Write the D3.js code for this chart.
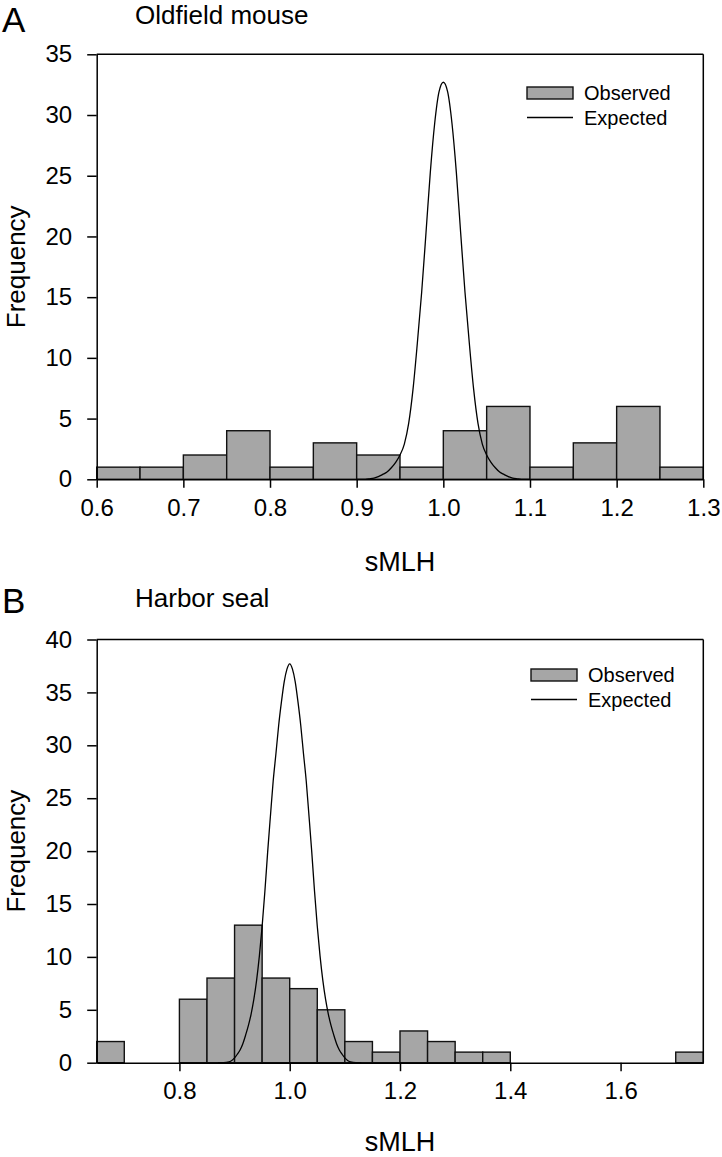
<!DOCTYPE html>
<html>
<head>
<meta charset="utf-8">
<script src="https://cdn.jsdelivr.net/npm/d3@7/dist/d3.min.js"></script>
<style>
  html, body { margin: 0; padding: 0; background: #fff; }
  svg { display: block; }
  text { font-family: "Liberation Sans", Arial, Helvetica, sans-serif; fill: #000; }
</style>
</head>
<body>
<svg id="chart" width="722" height="1157"></svg>
<script>
// ---------------- Data ----------------
// Panel A: Oldfield mouse
const mouseBinEdges = [0.60, 0.65, 0.70, 0.75, 0.80, 0.85, 0.90, 0.95, 1.00, 1.05, 1.10, 1.15, 1.20, 1.25, 1.30];
const mouseObserved = [1, 1, 2, 4, 1, 3, 2, 1, 4, 6, 1, 3, 6, 1];
const mouseExpectedX = [0.90, 0.91, 0.915, 0.92, 0.925, 0.93, 0.935, 0.94, 0.945, 0.95, 0.955, 0.96, 0.965, 0.97, 0.975, 0.98, 0.985, 0.99, 0.995, 1.00,
                        1.005, 1.01, 1.015, 1.02, 1.025, 1.03, 1.035, 1.04, 1.045, 1.05, 1.055, 1.06, 1.065, 1.07, 1.075, 1.08, 1.085, 1.09, 1.10];
const mouseExpectedY = [0, 0, 0.04, 0.1, 0.22, 0.4, 0.6, 0.95, 1.4, 2.0, 2.9, 4.6, 7.4, 11.2, 15.4, 20.3, 25.3, 29.3, 31.9, 32.7,
                        31.9, 29.3, 25.3, 20.3, 15.4, 11.2, 7.4, 4.6, 2.9, 2.0, 1.4, 0.95, 0.6, 0.4, 0.22, 0.1, 0.04, 0, 0];
const mouseXTicks = [0.6, 0.7, 0.8, 0.9, 1.0, 1.1, 1.2, 1.3];
const mouseYTicks = [0, 5, 10, 15, 20, 25, 30, 35];

// Panel B: Harbor seal
const sealBinEdges = [0.65, 0.70, 0.75, 0.80, 0.85, 0.90, 0.95, 1.00, 1.05, 1.10, 1.15, 1.20, 1.25, 1.30, 1.35, 1.40, 1.45, 1.50, 1.55, 1.60, 1.65, 1.70, 1.75];
const sealObserved = [2, 0, 0, 6, 8, 13, 8, 7, 5, 2, 1, 3, 2, 1, 1, 0, 0, 0, 0, 0, 0, 1];
const sealExpectedX = [0.87, 0.88, 0.89, 0.895, 0.90, 0.905, 0.91, 0.915, 0.92, 0.925, 0.93, 0.935, 0.94, 0.945, 0.95, 0.955, 0.96, 0.965, 0.97, 0.975, 0.98, 0.985, 0.99, 0.995, 1.00,
                       1.005, 1.01, 1.015, 1.02, 1.025, 1.03, 1.035, 1.04, 1.045, 1.05, 1.055, 1.06, 1.065, 1.07, 1.075, 1.08, 1.085, 1.09, 1.095, 1.10, 1.105, 1.11, 1.12, 1.13];
const sealExpectedY = [0, 0, 0.08, 0.2, 0.45, 0.8, 1.2, 1.8, 2.6, 3.5, 4.6, 6.0, 7.8, 10.1, 12.9, 16.2, 19.9, 23.3, 26.6, 29.2, 31.9, 34.1, 36.0, 37.2, 37.7,
                       37.2, 36.0, 34.1, 31.9, 29.2, 26.6, 23.3, 19.9, 16.2, 12.9, 10.1, 7.8, 6.0, 4.6, 3.5, 2.6, 1.8, 1.2, 0.8, 0.45, 0.2, 0.08, 0, 0];
const sealXTicks = [0.8, 1.0, 1.2, 1.4, 1.6];
const sealYTicks = [0, 5, 10, 15, 20, 25, 30, 35, 40];

const legendLabels = ["Observed", "Expected"];

// ---------------- Drawing ----------------
const svg = d3.select("#chart");
const BAR_FILL = "#a6a6a6";

function drawPanel(cfg) {
  const g = svg.append("g");
  const x = d3.scaleLinear().domain(cfg.xDomain).range([cfg.left, cfg.right]);
  const y = d3.scaleLinear().domain(cfg.yDomain).range([cfg.bottom, cfg.top]);

  // bars
  const bins = cfg.counts.map((c, i) => ({ x0: cfg.edges[i], x1: cfg.edges[i + 1], c }))
                         .filter(d => d.c > 0);
  g.selectAll("rect.bar").data(bins).enter().append("rect")
    .attr("class", "bar")
    .attr("x", d => x(d.x0))
    .attr("width", d => x(d.x1) - x(d.x0))
    .attr("y", d => y(d.c))
    .attr("height", d => y(0) - y(d.c))
    .attr("fill", BAR_FILL)
    .attr("stroke", "#111")
    .attr("stroke-width", 1.4);

  // expected curve
  const pts = cfg.curveX.map((v, i) => [v, cfg.curveY[i]]);
  g.append("path")
    .datum(pts)
    .attr("fill", "none")
    .attr("stroke", "#000")
    .attr("stroke-width", 1.3)
    .attr("d", d3.line().x(d => x(d[0])).y(d => y(d[1])).curve(d3.curveMonotoneX));

  // frame (top and right)
  g.append("line").attr("x1", cfg.left).attr("x2", cfg.right).attr("y1", cfg.top).attr("y2", cfg.top)
    .attr("stroke", "#000").attr("stroke-width", 1.5);
  g.append("line").attr("x1", cfg.right).attr("x2", cfg.right).attr("y1", cfg.top).attr("y2", cfg.bottom)
    .attr("stroke", "#000").attr("stroke-width", 1.5);

  // axes
  const yAxis = d3.axisLeft(y).tickValues(cfg.yTicks).tickFormat(d3.format("d"))
    .tickSize(9.5).tickSizeOuter(0).tickPadding(15);
  const ya = g.append("g").attr("transform", `translate(${cfg.left},0)`).call(yAxis);
  const xAxis = d3.axisBottom(x).tickValues(cfg.xTicks).tickFormat(d3.format(".1f"))
    .tickSize(8.5).tickSizeOuter(0).tickPadding(11);
  const xa = g.append("g").attr("transform", `translate(0,${cfg.bottom})`).call(xAxis);
  [ya, xa].forEach(a => {
    a.selectAll("path, line").attr("stroke", "#000").attr("stroke-width", 1.5);
    a.selectAll("text").attr("font-size", 24).attr("fill", "#000")
      .style("font-family", '"Liberation Sans", Arial, sans-serif');
  });

  // axis titles
  g.append("text")
    .attr("x", (cfg.left + cfg.right) / 2).attr("y", cfg.xTitleY)
    .attr("text-anchor", "middle").attr("font-size", 27).text(cfg.xTitle);
  g.append("text")
    .attr("transform", `translate(25,${(cfg.top + cfg.bottom) / 2}) rotate(-90)`)
    .attr("text-anchor", "middle").attr("font-size", 26).text(cfg.yTitle);

  // panel letter and title
  g.append("text").attr("x", 2).attr("y", cfg.letterY).attr("font-size", 35).text(cfg.letter);
  g.append("text").attr("x", 135).attr("y", cfg.titleY).attr("font-size", 26).text(cfg.title);

  // legend
  const lg = g.append("g").attr("transform", `translate(${cfg.legendX},${cfg.legendY})`);
  lg.append("rect").attr("x", 0).attr("y", 0).attr("width", 46).attr("height", 12)
    .attr("fill", BAR_FILL).attr("stroke", "#111").attr("stroke-width", 1.4);
  lg.append("line").attr("x1", 0).attr("x2", 46).attr("y1", 30.5).attr("y2", 30.5)
    .attr("stroke", "#000").attr("stroke-width", 1.3);
  lg.append("text").attr("x", 57).attr("y", 12.5).attr("font-size", 20).text(legendLabels[0]);
  lg.append("text").attr("x", 57).attr("y", 37.5).attr("font-size", 20).text(legendLabels[1]);
}

drawPanel({
  edges: mouseBinEdges, counts: mouseObserved,
  curveX: mouseExpectedX, curveY: mouseExpectedY,
  xTicks: mouseXTicks, yTicks: mouseYTicks,
  xDomain: [0.6, 1.3], yDomain: [0, 35],
  left: 96.7, right: 703.3, top: 54.3, bottom: 479.3,
  xTitle: "sMLH", yTitle: "Frequency", xTitleY: 571,
  letter: "A", letterY: 32, title: "Oldfield mouse", titleY: 24,
  legendX: 527, legendY: 87
});

drawPanel({
  edges: sealBinEdges, counts: sealObserved,
  curveX: sealExpectedX, curveY: sealExpectedY,
  xTicks: sealXTicks, yTicks: sealYTicks,
  xDomain: [0.65, 1.75], yDomain: [0, 40],
  left: 96.7, right: 703.3, top: 639.5, bottom: 1062.7,
  xTitle: "sMLH", yTitle: "Frequency", xTitleY: 1151,
  letter: "B", letterY: 613, title: "Harbor seal", titleY: 607,
  legendX: 531, legendY: 669
});
</script>
</body>
</html>
